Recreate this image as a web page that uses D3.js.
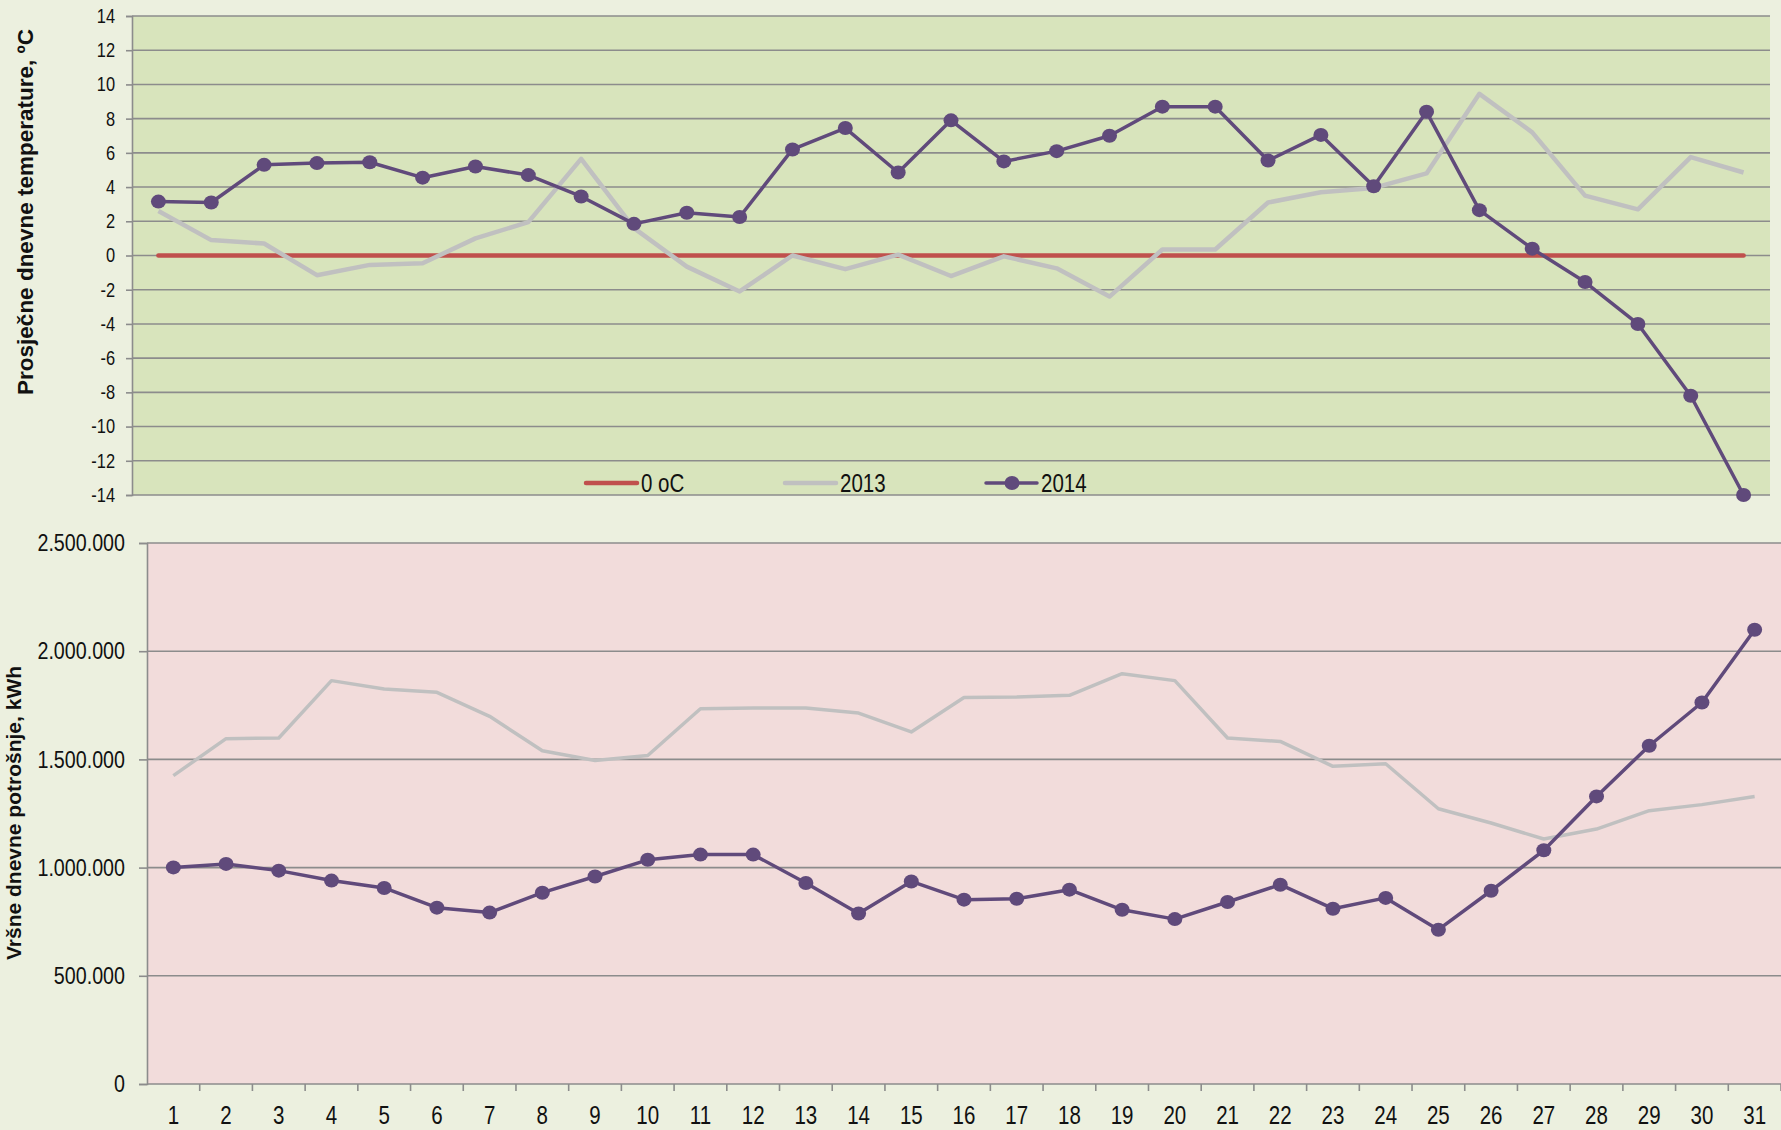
<!DOCTYPE html>
<html>
<head>
<meta charset="utf-8">
<script src="https://cdn.jsdelivr.net/npm/d3@7"></script>
<style>
  html, body { margin: 0; padding: 0; background: #ECF0DF; }
  svg { display: block; }
  .num { font-family: "Liberation Sans", Arial, sans-serif; fill: #111; }
  .ttl { font-family: "Liberation Sans", Arial, sans-serif; font-weight: bold; fill: #111; }
</style>
</head>
<body>
<svg id="chart"></svg>
<script>
// Days of the month
var days = ["1","2","3","4","5","6","7","8","9","10","11","12","13","14","15","16",
            "17","18","19","20","21","22","23","24","25","26","27","28","29","30","31"];

// Average daily temperature, oC
var temp2013 = [2.6, 0.9, 0.7, -1.15, -0.55, -0.45, 1.0, 1.95, 5.65, 1.6, -0.65, -2.1, 0.0, -0.8, 0.05, -1.2,
                -0.05, -0.75, -2.4, 0.35, 0.35, 3.1, 3.7, 3.95, 4.8, 9.45, 7.2, 3.5, 2.7, 5.75, 4.85];
var temp2014 = [3.15, 3.1, 5.3, 5.4, 5.45, 4.55, 5.2, 4.7, 3.45, 1.85, 2.5, 2.25, 6.2, 7.45, 4.85, 7.9,
                5.5, 6.1, 7.0, 8.7, 8.7, 5.55, 7.05, 4.05, 8.4, 2.65, 0.4, -1.55, -4.0, -8.2, -14.0];
var zeroLine = [0, 0, 0, 0, 0, 0, 0, 0, 0, 0, 0, 0, 0, 0, 0, 0,
                0, 0, 0, 0, 0, 0, 0, 0, 0, 0, 0, 0, 0, 0, 0];
var tempTicks = [-14, -12, -10, -8, -6, -4, -2, 0, 2, 4, 6, 8, 10, 12, 14];

// Peak daily consumption, kWh
var load2013 = [1425000, 1596000, 1599000, 1864000, 1825000, 1810000, 1699000, 1540000, 1495000, 1518000, 1734000,
                1737000, 1737000, 1714000, 1627000, 1786000, 1788000, 1796000, 1896000, 1864000, 1599000,
                1583000, 1468000, 1480000, 1272000, 1206000, 1132000, 1178000, 1263000, 1291000, 1329000];
var load2014 = [1001000, 1017000, 986000, 940000, 906000, 815000, 792000, 884000, 959000, 1036000, 1060000,
                1060000, 929000, 788000, 936000, 852000, 856000, 898000, 805000, 762000, 841000,
                921000, 810000, 860000, 713000, 893000, 1080000, 1329000, 1563000, 1763000, 2099000];
var loadTicks = [0, 500000, 1000000, 1500000, 2000000, 2500000];

var seriesNames = ["0 oC", "2013", "2014"];

var W = 1781, H = 1130;
var red = "#C0504D", grey = "#C0C0C0", purple = "#604A7B", gridCol = "#8C8C8C";

var svg = d3.select("#chart").attr("width", W).attr("height", H);
svg.append("rect").attr("width", W).attr("height", H).attr("fill", "#ECF0DF");

var hr = d3.formatLocale({decimal: ",", thousands: ".", grouping: [3], currency: ["", ""], minus: "-"});
var fmt = hr.format(",");
var fmtInt = hr.format("d");

// squeeze text horizontally to mimic a narrow font
function narrow(sel) {
    sel.each(function () {
        var len = this.getComputedTextLength();
        d3.select(this).attr("textLength", len * 0.82).attr("lengthAdjust", "spacingAndGlyphs");
    });
}

// ---------- Top chart: temperature ----------
var top1 = {l: 132, r: 1770, t: 16, b: 495};

var x1 = d3.scaleBand().domain(days).range([top1.l, top1.r]).padding(0);
var y1 = d3.scaleLinear().domain([-14, 14]).range([top1.b, top1.t]);
var cx1 = function (d) { return x1(d) + x1.bandwidth() / 2; };

svg.append("rect")
    .attr("x", top1.l).attr("y", top1.t)
    .attr("width", top1.r - top1.l).attr("height", top1.b - top1.t)
    .attr("fill", "#D8E4BC");

// gridlines
svg.append("g")
    .selectAll("line").data(tempTicks).enter().append("line")
    .attr("x1", top1.l).attr("x2", top1.r)
    .attr("y1", function (d) { return y1(d); }).attr("y2", function (d) { return y1(d); })
    .attr("stroke", gridCol).attr("stroke-width", 1.6);

// y axis
var ax1 = svg.append("g")
    .attr("transform", "translate(" + top1.l + ",0)")
    .call(d3.axisLeft(y1).tickValues(tempTicks).tickSize(6).tickPadding(11).tickFormat(fmtInt));
ax1.select(".domain").attr("stroke", gridCol).attr("stroke-width", 1.6);
ax1.selectAll(".tick line").attr("stroke", gridCol).attr("stroke-width", 1.6);
ax1.selectAll("text").attr("class", "num").style("font-size", "20px").attr("fill", "#111").call(narrow);

var line1 = d3.line()
    .x(function (d, i) { return cx1(days[i]); })
    .y(function (d) { return y1(d); });

svg.append("path").datum(zeroLine).attr("d", line1)
    .attr("fill", "none").attr("stroke", red).attr("stroke-width", 4.5).attr("stroke-linecap", "round");
svg.append("path").datum(temp2013).attr("d", line1)
    .attr("fill", "none").attr("stroke", grey).attr("stroke-width", 4.5).attr("stroke-linejoin", "round");
svg.append("path").datum(temp2014).attr("d", line1)
    .attr("fill", "none").attr("stroke", purple).attr("stroke-width", 3.5).attr("stroke-linejoin", "round");
svg.append("g").selectAll("ellipse").data(temp2014).enter().append("ellipse")
    .attr("cx", function (d, i) { return cx1(days[i]); })
    .attr("cy", function (d) { return y1(d); })
    .attr("rx", 7.5).attr("ry", 7)
    .attr("fill", purple);

// legend
var legend = svg.append("g").attr("transform", "translate(0,483)");
var legX = [586, 785, 986];
var legCol = [red, grey, purple];
seriesNames.forEach(function (name, i) {
    var g = legend.append("g").attr("transform", "translate(" + legX[i] + ",0)");
    g.append("line").attr("x1", 0).attr("x2", 51).attr("y1", 0).attr("y2", 0)
        .attr("stroke", legCol[i]).attr("stroke-width", i == 2 ? 3.5 : 4.5).attr("stroke-linecap", "round");
    if (i == 2) {
        g.append("ellipse").attr("cx", 26).attr("cy", 0).attr("rx", 7.5).attr("ry", 7).attr("fill", purple);
    }
    g.append("text").attr("class", "num").attr("x", 55).attr("y", 9)
        .style("font-size", "25px").text(name).call(narrow);
});

svg.append("text").attr("class", "ttl")
    .attr("transform", "translate(33,212) rotate(-90)")
    .attr("text-anchor", "middle")
    .style("font-size", "22.5px")
    .text("Prosječne dnevne temperature, ºC");

// ---------- Bottom chart: consumption ----------
var bot = {l: 147, r: 1781, t: 543, b: 1084};

var x2 = d3.scaleBand().domain(days).range([bot.l, bot.r]).padding(0);
var y2 = d3.scaleLinear().domain([0, 2500000]).range([bot.b, bot.t]);
var cx2 = function (d) { return x2(d) + x2.bandwidth() / 2; };

svg.append("rect")
    .attr("x", bot.l).attr("y", bot.t)
    .attr("width", bot.r - bot.l).attr("height", bot.b - bot.t)
    .attr("fill", "#F2DCDB");

svg.append("g")
    .selectAll("line").data(loadTicks.slice(1)).enter().append("line")
    .attr("x1", bot.l).attr("x2", bot.r)
    .attr("y1", function (d) { return y2(d); }).attr("y2", function (d) { return y2(d); })
    .attr("stroke", gridCol).attr("stroke-width", 1.6);

var ax2 = svg.append("g")
    .attr("transform", "translate(" + bot.l + ",0)")
    .call(d3.axisLeft(y2).tickValues(loadTicks).tickSize(8).tickPadding(14).tickFormat(fmt));
ax2.select(".domain").attr("stroke", gridCol).attr("stroke-width", 1.6);
ax2.selectAll(".tick line").attr("stroke", gridCol).attr("stroke-width", 1.6);
ax2.selectAll("text").attr("class", "num").style("font-size", "24px").attr("fill", "#111").call(narrow);

// x axis with ticks on category boundaries
var xAxisG = svg.append("g").attr("transform", "translate(0," + bot.b + ")");
xAxisG.append("line").attr("x1", bot.l).attr("x2", bot.r)
    .attr("stroke", gridCol).attr("stroke-width", 1.6);
xAxisG.selectAll(".bt").data(days).enter().append("line")
    .attr("x1", function (d) { return x2(d) + x2.bandwidth(); })
    .attr("x2", function (d) { return x2(d) + x2.bandwidth(); })
    .attr("y1", 0).attr("y2", 7)
    .attr("stroke", gridCol).attr("stroke-width", 1.6);
xAxisG.selectAll("text").data(days).enter().append("text")
    .attr("class", "num")
    .attr("x", function (d) { return cx2(d); })
    .attr("y", 40)
    .attr("text-anchor", "middle")
    .style("font-size", "25px")
    .text(function (d) { return d; })
    .call(narrow);

var line2 = d3.line()
    .x(function (d, i) { return cx2(days[i]); })
    .y(function (d) { return y2(d); });

svg.append("path").datum(load2013).attr("d", line2)
    .attr("fill", "none").attr("stroke", grey).attr("stroke-width", 3.5).attr("stroke-linejoin", "round");
svg.append("path").datum(load2014).attr("d", line2)
    .attr("fill", "none").attr("stroke", purple).attr("stroke-width", 3.5).attr("stroke-linejoin", "round");
svg.append("g").selectAll("ellipse").data(load2014).enter().append("ellipse")
    .attr("cx", function (d, i) { return cx2(days[i]); })
    .attr("cy", function (d) { return y2(d); })
    .attr("rx", 7.5).attr("ry", 7)
    .attr("fill", purple);

svg.append("text").attr("class", "ttl")
    .attr("transform", "translate(21,813) rotate(-90)")
    .attr("text-anchor", "middle")
    .style("font-size", "21px")
    .text("Vršne dnevne potrošnje, kWh");
</script>
</body>
</html>
